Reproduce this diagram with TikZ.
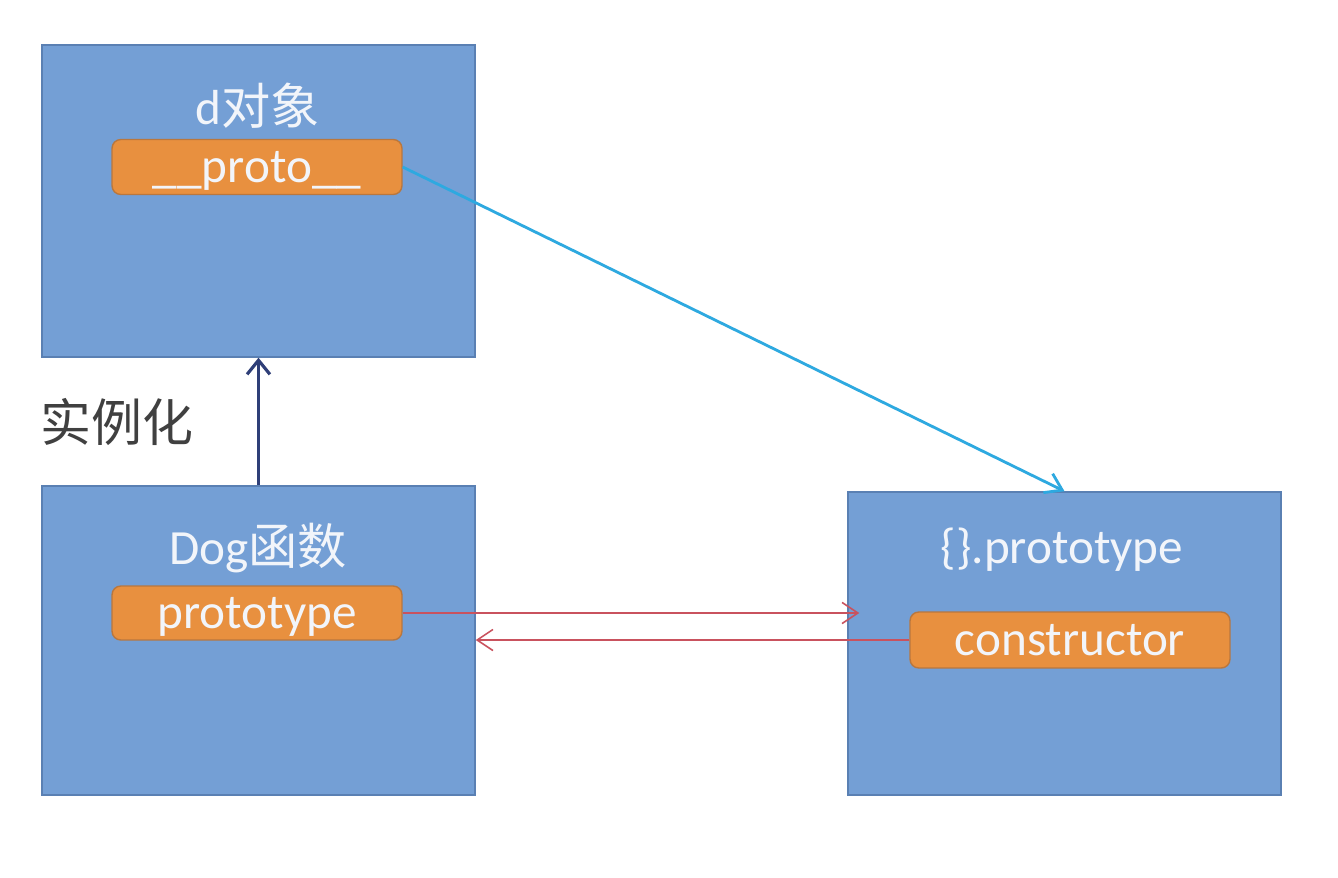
\documentclass[tikz,border=0pt]{standalone}
\usepackage{fontspec}
\setmainfont{Carlito}
\newfontfamily\cjk{Noto Sans CJK SC}
\usetikzlibrary{arrows.meta,calc}

\definecolor{boxblue}{HTML}{749FD5}
\definecolor{boxedge}{HTML}{5A80B3}
\definecolor{pillorange}{HTML}{E8903F}
\definecolor{pilledge}{HTML}{B9773E}
\definecolor{paletext}{HTML}{F2F5FA}
\definecolor{linkcyan}{HTML}{2EA9E0}
\definecolor{linknavy}{HTML}{2F3F78}
\definecolor{linkred}{HTML}{C9525E}

\tikzstyle{objbox}=[rectangle,draw=boxedge,fill=boxblue,line width=0.9pt,minimum width=8.66cm,inner sep=0pt]
\tikzstyle{title}=[text=paletext,font=\fontsize{28}{32}\selectfont,inner sep=0pt]
\tikzstyle{pill}=[rectangle,rounded corners=5pt,draw=pilledge,fill=pillorange,line width=0.8pt,text=paletext,font=\fontsize{28}{32}\selectfont,text height=24pt,text depth=6pt,minimum height=1.1cm,inner sep=0pt]

\begin{document}
\begin{tikzpicture}[x=0.02cm,y=-0.02cm,>={Straight Barb[length=9pt,width=12pt]}]
  \useasboundingbox[fill=white] (0,0) rectangle (1338,878);
  % the three objects
  \node (dobj) [objbox,minimum height=6.24cm] at (258.5,201) {};
  \node (dog) [objbox,minimum height=6.18cm] at (258.5,640.5) {};
  \node (protobox) [objbox,minimum height=6.06cm] at (1064.5,643.5) {};
  % titles and slots
  \node (dtitle) [title] at (258,106) {d{\cjk 对象}};
  \node (dogtitle) [title] at (258,548) {Dog{\cjk 函数}};
  \node (ptitle) [title] at (1062,550) {\{\}.prototype};
  \node (proto) [pill,minimum width=5.8cm] at (257,167) {\_\_proto\_\_};
  \node (prototype) [pill,minimum width=5.8cm,minimum height=1.08cm] at (257,613) {prototype};
  \node (constructor) [pill,minimum width=6.4cm,minimum height=1.12cm] at (1070,640) {constructor};
  \node (inst) [text=black!75,font=\cjk\fontsize{29}{32}\selectfont,inner sep=0pt] at (117,422) {实例化};
  \coordinate (tipR) at ($(protobox.west |- prototype.east)+(12,0)$);
  \coordinate (tipL) at (dog.east |- constructor.west);
  \path[->]
  (proto.east) edge[draw=linkcyan,line width=1.6pt] (protobox.north)
  (dog.north) edge[draw=linknavy,line width=1.8pt,>={Straight Barb[length=8pt,width=13pt]}] (dobj.south)
  (prototype.east) edge[draw=linkred,line width=0.9pt] (tipR)
  (constructor.west) edge[draw=linkred,line width=0.9pt] (tipL);
\end{tikzpicture}
\end{document}
